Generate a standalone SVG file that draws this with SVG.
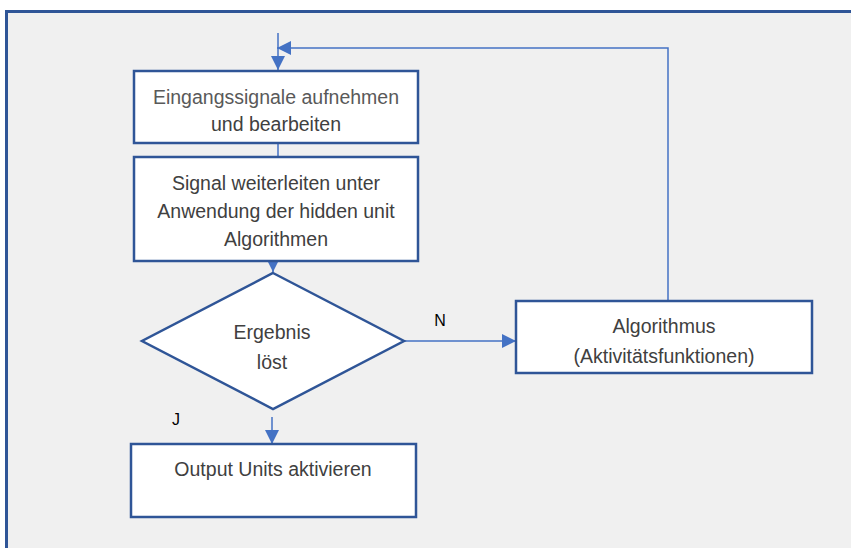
<svg xmlns="http://www.w3.org/2000/svg" width="851" height="548" viewBox="0 0 851 548">
<defs>
<style>
.frame{fill:#f0f0f0;stroke:#2f5597;stroke-width:3}
.node{fill:#ffffff;stroke:#2f5597;stroke-width:2.5}
.con{fill:none;stroke:#4472c4;stroke-width:1.5}
.t{font-family:"Liberation Sans",Arial,sans-serif;font-size:19.5px;fill:#404040;text-anchor:middle}
.lbl{font-family:"Liberation Sans",Arial,sans-serif;font-size:16px;fill:#000000;text-anchor:middle}
</style>
<marker id="arr" viewBox="0 0 10 10" refX="10" refY="5" markerWidth="14" markerHeight="14" markerUnits="userSpaceOnUse" orient="auto">
<path d="M0,0 L10,5 L0,10 Z" fill="#4472c4"/>
</marker>
</defs>
<rect x="0" y="0" width="851" height="548" fill="#ffffff"/>
<rect class="frame" x="6.5" y="11.5" width="860" height="560"/>
<g id="connectors">
<line class="con" x1="278" y1="33" x2="278" y2="70" marker-end="url(#arr)"/>
<polyline class="con" points="668,301 668,48 277,48" marker-end="url(#arr)"/>
<line class="con" x1="278" y1="143" x2="278" y2="157"/>
<line class="con" x1="273" y1="261" x2="273" y2="272" marker-end="url(#arr)"/>
<line class="con" x1="404" y1="341" x2="516" y2="341" marker-end="url(#arr)"/>
<line class="con" x1="272" y1="417" x2="272" y2="444" marker-end="url(#arr)"/>
<text class="lbl" x="440" y="326">N</text>
<text class="lbl" x="176" y="425">J</text>
</g>
<g id="n1">
<rect class="node" x="134" y="71" width="284" height="72"/>
<text class="t" x="276" y="104" style="fill:#595959">Eingangssignale aufnehmen</text>
<text class="t" x="276" y="131">und bearbeiten</text>
</g>
<g id="n2">
<rect class="node" x="134" y="157" width="284" height="104"/>
<text class="t" x="276" y="190">Signal weiterleiten unter</text>
<text class="t" x="276" y="218">Anwendung der hidden unit</text>
<text class="t" x="276" y="246">Algorithmen</text>
</g>
<g id="n3">
<polygon class="node" points="273,273 404,341 273,409 142,341"/>
<text class="t" x="272" y="339">Ergebnis</text>
<text class="t" x="272" y="369">löst</text>
</g>
<g id="n4">
<rect class="node" x="516" y="301" width="296" height="72"/>
<text class="t" x="664" y="333">Algorithmus</text>
<text class="t" x="664" y="363">(Aktivitätsfunktionen)</text>
</g>
<g id="n5">
<rect class="node" x="131" y="444" width="285" height="73"/>
<text class="t" x="273" y="476">Output Units aktivieren</text>
</g>
</svg>
